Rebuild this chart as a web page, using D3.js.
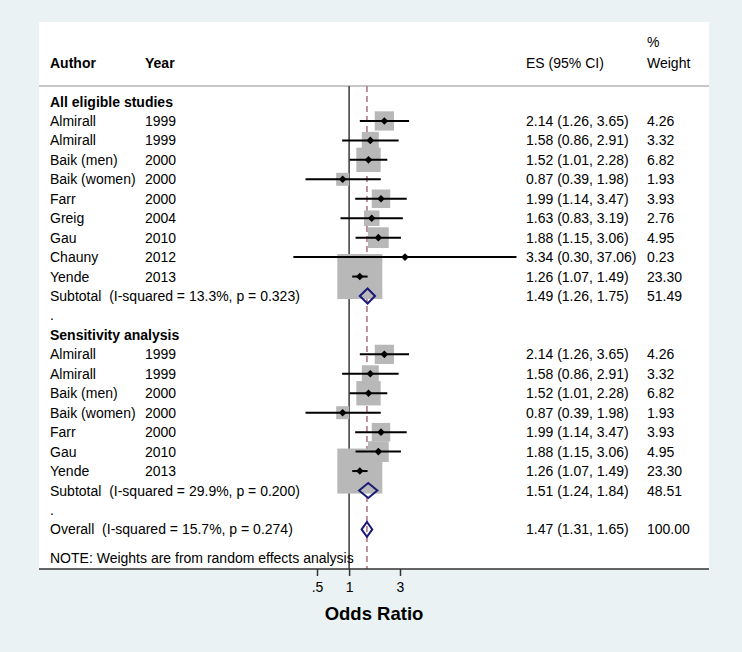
<!DOCTYPE html>
<html><head><meta charset="utf-8">
<script src="https://cdn.jsdelivr.net/npm/d3@7/dist/d3.min.js"></script>
<style>
body{margin:0;background:#eaf2f3;}
text{font-family:"Liberation Sans",Arial,Helvetica,sans-serif;white-space:pre;}
</style></head><body>
<svg id="c" width="742" height="652"></svg>
<script>
// ---- data ----
const rowTypes   = ["head","study","study","study","study","study","study","study","study","study","sub","dot","head","study","study","study","study","study","study","study","sub","dot","overall"];
const labels     = ["All eligible studies","Almirall","Almirall","Baik (men)","Baik (women)","Farr","Greig","Gau","Chauny","Yende","Subtotal  (I-squared = 13.3%, p = 0.323)",".","Sensitivity analysis","Almirall","Almirall","Baik (men)","Baik (women)","Farr","Gau","Yende","Subtotal  (I-squared = 29.9%, p = 0.200)",".","Overall  (I-squared = 15.7%, p = 0.274)"];
const years      = ["","1999","1999","2000","2000","2000","2004","2010","2012","2013","","","","1999","1999","2000","2000","2000","2010","2013","","",""];
const es         = [null,2.14,1.58,1.52,0.87,1.99,1.63,1.88,3.34,1.26,1.49,null,null,2.14,1.58,1.52,0.87,1.99,1.88,1.26,1.51,null,1.47];
const lo         = [null,1.26,0.86,1.01,0.39,1.14,0.83,1.15,0.30,1.07,1.26,null,null,1.26,0.86,1.01,0.39,1.14,1.15,1.07,1.24,null,1.31];
const hi         = [null,3.65,2.91,2.28,1.98,3.47,3.19,3.06,37.06,1.49,1.75,null,null,3.65,2.91,2.28,1.98,3.47,3.06,1.49,1.84,null,1.65];
const weights    = [null,4.26,3.32,6.82,1.93,3.93,2.76,4.95,0.23,23.30,51.49,null,null,4.26,3.32,6.82,1.93,3.93,4.95,23.30,48.51,null,100.00];
const tickVals   = [0.5,1,3];
const tickLabels = [".5","1","3"];
const overallES  = 1.47;
const noteText   = "NOTE: Weights are from random effects analysis";

// ---- layout ----
const svg = d3.select("#c");
const P = {l:39, r:709, t:22, axisY:569, headY:86};
const x = d3.scaleLog().domain([0.5,3]).range([317,400]);
const y = d3.scaleLinear().domain([0, rowTypes.length-1]).range([101.5, 101.5 + 19.45*(rowTypes.length-1)]);
const boxK = 45/Math.sqrt(23.30);
const fs = 14;

svg.append("rect").attr("x",P.l).attr("y",P.t).attr("width",P.r-P.l).attr("height",P.axisY-P.t).attr("fill","#fff");

// headers
const hdr = svg.append("g");
hdr.append("text").attr("x",50).attr("y",68).attr("font-size",fs).attr("font-weight","bold").text("Author");
hdr.append("text").attr("x",145).attr("y",68).attr("font-size",fs).attr("font-weight","bold").text("Year");
hdr.append("text").attr("x",526).attr("y",68).attr("font-size",fs).text("ES (95% CI)");
hdr.append("text").attr("x",647).attr("y",47).attr("font-size",fs).text("%");
hdr.append("text").attr("x",647).attr("y",68).attr("font-size",fs).text("Weight");
svg.append("line").attr("x1",P.l).attr("x2",P.r).attr("y1",P.headY).attr("y2",P.headY).attr("stroke","#b4b4b4").attr("stroke-width",1.5);

// null line & overall line
svg.append("line").attr("x1",x(1)).attr("x2",x(1)).attr("y1",P.headY).attr("y2",P.axisY).attr("stroke","#3a3a3a").attr("stroke-width",1.5);
svg.append("line").attr("x1",x(overallES)).attr("x2",x(overallES)).attr("y1",P.headY).attr("y2",P.axisY)
  .attr("stroke","#a8707e").attr("stroke-width",1.5).attr("stroke-dasharray","6,4");

const idx = d3.range(rowTypes.length);
const studies = idx.filter(i=>rowTypes[i]==="study");
const pooled = idx.filter(i=>rowTypes[i]==="sub"||rowTypes[i]==="overall");

// boxes
svg.append("g").selectAll("rect").data(studies).join("rect")
  .attr("x",i=>x(es[i])-boxK*Math.sqrt(weights[i])/2)
  .attr("y",i=>y(i)-boxK*Math.sqrt(weights[i])/2)
  .attr("width",i=>boxK*Math.sqrt(weights[i]))
  .attr("height",i=>boxK*Math.sqrt(weights[i]))
  .attr("fill","#b8b8b8");

// CI lines
svg.append("g").selectAll("line").data(studies).join("line")
  .attr("x1",i=>x(lo[i])).attr("x2",i=>x(hi[i])).attr("y1",i=>y(i)).attr("y2",i=>y(i))
  .attr("stroke","#000").attr("stroke-width",2);

// point markers
svg.append("g").selectAll("path").data(studies).join("path")
  .attr("d",i=>{const cx=x(es[i]),cy=y(i),r=3.8;return `M${cx-r},${cy}L${cx},${cy-r}L${cx+r},${cy}L${cx},${cy+r}Z`;})
  .attr("fill","#000");

// diamonds
svg.append("g").selectAll("path").data(pooled).join("path")
  .attr("d",i=>{const cy=y(i),h=7.5;return `M${x(lo[i])},${cy}L${x(es[i])},${cy-h}L${x(hi[i])},${cy}L${x(es[i])},${cy+h}Z`;})
  .attr("fill","none").attr("stroke","#1a1a78").attr("stroke-width",2);

// row texts
const rows = svg.append("g");
idx.forEach(i=>{
  const t = rowTypes[i];
  rows.append("text").attr("x",50).attr("y",y(i)+5).attr("font-size",fs)
    .attr("font-weight",t==="head"?"bold":"normal").text(labels[i]);
  if (years[i]) rows.append("text").attr("x",145).attr("y",y(i)+5).attr("font-size",fs).text(years[i]);
  if (es[i]!=null){
    rows.append("text").attr("x",526).attr("y",y(i)+5).attr("font-size",fs)
      .text(`${es[i].toFixed(2)} (${lo[i].toFixed(2)}, ${hi[i].toFixed(2)})`);
    rows.append("text").attr("x",647).attr("y",y(i)+5).attr("font-size",fs).text(weights[i].toFixed(2));
  }
});
rows.append("text").attr("x",50).attr("y",563).attr("font-size",fs).text(noteText);

// axis
svg.append("line").attr("x1",P.l).attr("x2",P.r).attr("y1",P.axisY).attr("y2",P.axisY).attr("stroke","#333").attr("stroke-width",1.5);
const ax = svg.append("g").attr("transform",`translate(0,${P.axisY})`)
  .call(d3.axisBottom(x).tickValues(tickVals).tickFormat((d,i)=>tickLabels[i]).tickSize(7).tickPadding(6));
ax.select(".domain").remove();
ax.selectAll(".tick line").attr("stroke","#333").attr("stroke-width",1.5);
ax.selectAll(".tick text").attr("font-size",14).attr("fill","#000").attr("font-family","Liberation Sans, Arial, sans-serif");
svg.append("text").attr("x",374).attr("y",620).attr("text-anchor","middle").attr("font-size",18.5).attr("font-weight","bold").text("Odds Ratio");
</script></body></html>
